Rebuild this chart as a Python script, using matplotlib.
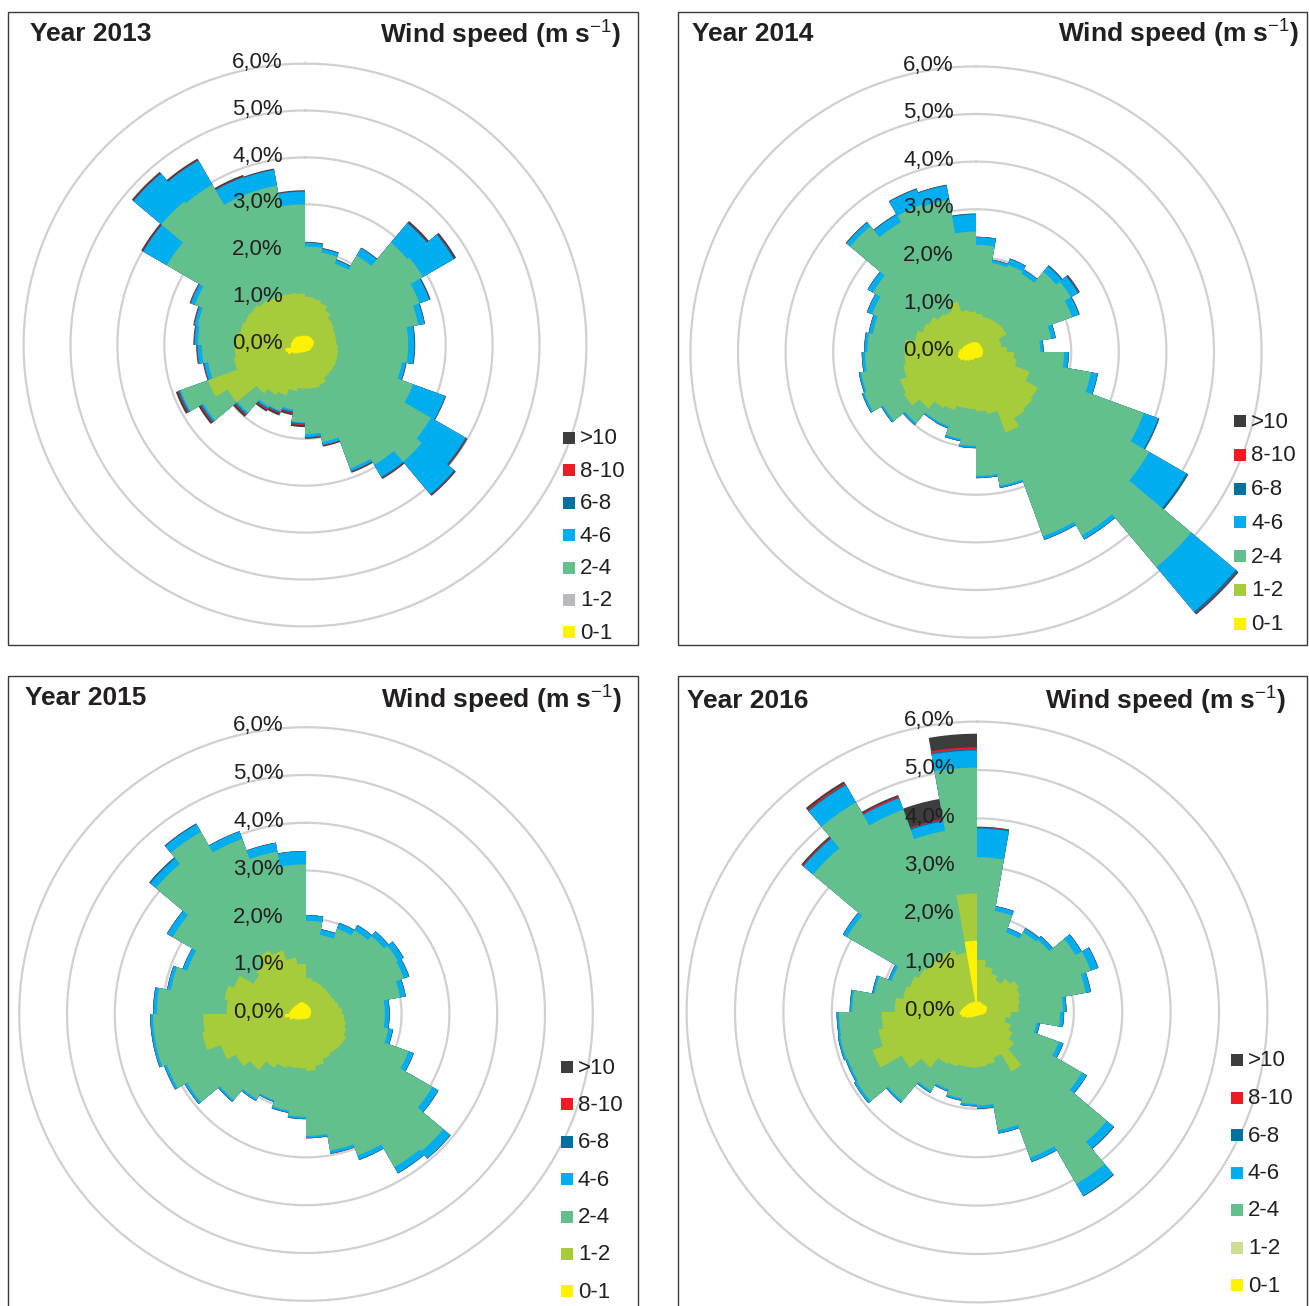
import numpy as np
import matplotlib.pyplot as plt
from matplotlib.patches import Rectangle

plt.rcParams['font.family'] = ['Liberation Sans', 'DejaVu Sans']
plt.rcParams['mathtext.fontset'] = 'custom'
plt.rcParams['mathtext.rm'] = 'Liberation Sans'
plt.rcParams['mathtext.bf'] = 'Liberation Sans:bold'

# 36 direction sectors of 10 degrees, given by the bearing where each one starts
sector_start = np.arange(0, 360, 10)

speed_classes = ['0-1', '1-2', '2-4', '4-6', '6-8', '8-10', '>10']
class_colors = ['#fff200', '#a6cb3b', '#63c08d', '#00aeef', '#00719f', '#ed1c24', '#3d3d3d']

# le*: cumulative frequency (%) of winds up to 1, 2, 4 and 6 m/s per sector
# s*: share (%) of the strong wind classes stacked on top of le6
le1_2013 = [0.2, 0.2, 0.2, 0.2, 0.2, 0.2, 0.2, 0.2, 0.18, 0.18, 0.16, 0.15, 0.15, 0.15, 0.15, 0.14, 0.14, 0.15,
            0.15, 0.16, 0.18, 0.2, 0.25, 0.3, 0.4, 0.43, 0.3, 0.3, 0.28, 0.28, 0.26, 0.25, 0.22, 0.22, 0.2, 0.2]
le2_2013 = [1.03, 1.0, 0.95, 0.85, 0.75, 0.72, 0.68, 0.67, 0.67, 0.7, 0.72, 0.74, 0.76, 0.78, 0.8, 0.9, 0.94, 0.93,
            0.93, 1.0, 1.15, 1.23, 1.35, 1.9, 2.2, 1.54, 1.5, 1.48, 1.4, 1.36, 1.33, 1.26, 1.2, 1.15, 1.13, 1.1]
le4_2013 = [2.1, 2.0, 1.85, 2.2, 2.85, 2.9, 2.6, 2.45, 2.2, 2.2, 2.1, 2.45, 3.1, 3.25, 2.95, 2.8, 2.1, 1.9,
            1.65, 1.4, 1.5, 1.52, 1.88, 2.5, 2.82, 2.1, 2.2, 2.28, 2.32, 2.5, 3.4, 4.0, 3.95, 3.45, 3.45, 3.0]
le6_2013 = [2.18, 2.08, 1.93, 2.38, 3.39, 3.66, 2.82, 2.58, 2.33, 2.33, 2.18, 3.18, 3.95, 4.15, 3.25, 2.86, 2.16, 1.96,
            1.67, 1.44, 1.52, 1.56, 1.92, 2.54, 2.85, 2.18, 2.29, 2.35, 2.39, 2.59, 3.98, 4.77, 4.54, 3.81, 3.79, 3.27]
s68_2013 = [0.01, 0.01, 0.01, 0.01, 0.02, 0.02, 0.01, 0.01, 0.01, 0.01, 0.01, 0.01, 0.02, 0.02, 0.02, 0.01, 0.01, 0.01,
            0.02, 0.02, 0.02, 0.02, 0.02, 0.02, 0.02, 0.01, 0.01, 0.01, 0.01, 0.01, 0.01, 0.01, 0.01, 0.01, 0.01, 0.01]
s810_2013 = [0, 0, 0, 0, 0.01, 0.01, 0, 0, 0, 0, 0, 0, 0.01, 0.01, 0.01, 0.01, 0.01, 0.01,
             0.02, 0.02, 0.02, 0.02, 0.02, 0.02, 0.02, 0.01, 0.01, 0.01, 0.01, 0.01, 0.01, 0.01, 0.01, 0.01, 0, 0]
sgt10_2013 = [0.01, 0.01, 0.01, 0.01, 0.03, 0.03, 0.02, 0.01, 0.01, 0.01, 0.01, 0.01, 0.02, 0.02, 0.02, 0.02, 0.02, 0.02,
              0.04, 0.04, 0.04, 0.04, 0.04, 0.04, 0.04, 0.01, 0.01, 0.01, 0.01, 0.01, 0.03, 0.03, 0.03, 0.03, 0.02, 0.02]

le1_2014 = [0.2, 0.2, 0.18, 0.17, 0.16, 0.15, 0.15, 0.15, 0.15, 0.15, 0.15, 0.15, 0.15, 0.15, 0.14, 0.13, 0.13, 0.13,
            0.13, 0.15, 0.18, 0.2, 0.25, 0.3, 0.36, 0.39, 0.37, 0.35, 0.3, 0.28, 0.25, 0.24, 0.22, 0.22, 0.21, 0.21]
le2_2014 = [0.8, 0.75, 0.75, 0.75, 0.75, 0.74, 0.55, 0.55, 0.65, 0.8, 0.87, 1.2, 1.5, 1.55, 1.6, 1.8, 1.32, 1.25,
            1.2, 1.2, 1.3, 1.36, 1.55, 1.75, 1.7, 1.55, 1.5, 1.5, 1.3, 1.2, 1.15, 1.05, 1.0, 1.13, 0.9, 0.85]
le4_2014 = [2.25, 1.9, 1.95, 1.9, 2.2, 2.3, 2.15, 1.6, 1.35, 1.85, 2.45, 3.75, 4.2, 5.9, 4.45, 4.12, 2.85, 2.6,
            1.97, 1.85, 1.66, 1.66, 1.95, 2.25, 2.5, 2.45, 2.33, 2.28, 2.2, 2.32, 2.5, 3.45, 3.15, 3.3, 3.25, 2.53]
le6_2014 = [2.41, 1.96, 2.08, 1.99, 2.35, 2.47, 2.3, 1.69, 1.41, 1.94, 2.59, 4.07, 5.1, 7.12, 4.54, 4.19, 2.89, 2.64,
            2.01, 1.89, 1.7, 1.69, 1.99, 2.29, 2.54, 2.49, 2.39, 2.34, 2.28, 2.43, 2.62, 3.55, 3.33, 3.64, 3.55, 2.89]
s68_2014 = [0.01, 0.01, 0.01, 0.01, 0.02, 0.03, 0.01, 0.01, 0.01, 0.01, 0.01, 0.02, 0.04, 0.05, 0.01, 0.01, 0.01, 0.01,
            0.01, 0.01, 0.01, 0.01, 0.01, 0.01, 0.01, 0.01, 0.01, 0.01, 0.01, 0.01, 0.01, 0.01, 0.01, 0.01, 0.01, 0.01]
s810_2014 = [0, 0, 0, 0, 0, 0.01, 0, 0, 0, 0, 0, 0, 0, 0.01, 0, 0, 0, 0,
             0, 0, 0, 0, 0, 0, 0, 0, 0, 0, 0, 0, 0, 0, 0, 0, 0, 0]
sgt10_2014 = [0, 0, 0, 0, 0.01, 0.01, 0.01, 0, 0, 0, 0, 0.01, 0.01, 0.02, 0, 0, 0, 0,
              0, 0, 0, 0, 0, 0, 0, 0, 0, 0, 0, 0, 0, 0.01, 0.01, 0.01, 0.01, 0.01]

le1_2015 = [0.2, 0.18, 0.16, 0.15, 0.14, 0.13, 0.12, 0.11, 0.1, 0.1, 0.1, 0.1, 0.1, 0.1, 0.1, 0.1, 0.1, 0.1,
            0.1, 0.11, 0.12, 0.13, 0.16, 0.2, 0.25, 0.35, 0.44, 0.35, 0.32, 0.3, 0.28, 0.27, 0.27, 0.27, 0.25, 0.22]
le2_2015 = [0.75, 0.7, 0.68, 0.66, 0.64, 0.64, 0.66, 0.7, 0.75, 0.8, 0.85, 0.9, 0.97, 0.97, 0.96, 1.0, 1.1, 1.19,
            1.14, 1.15, 1.2, 1.3, 1.53, 1.7, 1.9, 2.2, 2.15, 1.66, 1.73, 1.6, 1.27, 1.35, 1.54, 1.42, 1.2, 1.05]
le4_2015 = [1.95, 1.68, 1.9, 2.02, 2.13, 2.22, 2.18, 2.0, 1.65, 1.65, 1.75, 2.28, 3.05, 3.75, 3.7, 3.15, 2.9, 2.55,
            2.15, 2.05, 1.92, 2.05, 2.35, 2.87, 3.1, 3.2, 3.2, 3.12, 2.87, 2.65, 3.22, 4.1, 4.4, 3.9, 3.45, 3.13]
le6_2015 = [2.06, 1.79, 2.02, 2.14, 2.25, 2.35, 2.29, 2.11, 1.74, 1.74, 1.84, 2.39, 3.19, 3.94, 3.84, 3.24, 2.96, 2.59,
            2.19, 2.09, 1.95, 2.09, 2.39, 2.92, 3.15, 3.25, 3.25, 3.19, 2.94, 2.74, 3.35, 4.25, 4.58, 4.06, 3.63, 3.4]
s68_2015 = [0.01, 0.01, 0.01, 0.01, 0.01, 0.01, 0.01, 0.01, 0.01, 0.01, 0.01, 0.01, 0.01, 0.01, 0.01, 0.01, 0.01, 0.01,
            0.01, 0.01, 0.01, 0.01, 0.01, 0.01, 0.01, 0.01, 0.01, 0.01, 0.01, 0.01, 0.01, 0.03, 0.02, 0.01, 0.01, 0.01]
s810_2015 = [0] * 36
sgt10_2015 = [0] * 36

le1_2016 = [0.22, 0.22, 0.21, 0.2, 0.21, 0.22, 0.23, 0.21, 0.19, 0.18, 0.15, 0.12, 0.1, 0.09, 0.08, 0.08, 0.08, 0.08,
            0.08, 0.09, 0.1, 0.12, 0.15, 0.2, 0.26, 0.32, 0.36, 0.33, 0.3, 0.27, 0.25, 0.24, 0.23, 0.22, 0.22, 1.47]
le2_2016 = [1.08, 0.95, 0.85, 0.76, 0.9, 1.0, 0.95, 0.9, 0.86, 0.7, 0.6, 0.75, 0.85, 1.0, 1.42, 1.0, 1.1, 1.13,
            1.15, 1.15, 1.2, 1.24, 1.5, 1.8, 2.3, 2.07, 1.97, 1.7, 1.55, 1.48, 1.4, 1.35, 1.35, 1.36, 1.25, 2.45]
le4_2016 = [3.2, 2.12, 1.75, 1.9, 1.95, 2.35, 2.5, 2.28, 1.78, 1.72, 1.25, 1.8, 2.5, 3.5, 4.1, 3.2, 2.48, 1.93,
            1.9, 1.81, 1.7, 1.88, 2.4, 2.87, 2.84, 2.87, 2.85, 2.58, 2.15, 1.88, 3.1, 4.42, 5.0, 4.45, 3.8, 5.05]
le6_2016 = [3.79, 2.21, 1.84, 1.99, 2.04, 2.49, 2.66, 2.38, 1.84, 1.79, 1.31, 1.89, 2.61, 3.68, 4.38, 3.29, 2.54, 1.99,
            1.94, 1.85, 1.74, 1.92, 2.44, 2.92, 2.88, 2.91, 2.89, 2.62, 2.19, 1.94, 3.19, 4.68, 5.41, 4.7, 4.0, 5.4]
s68_2016 = [0.02, 0.01, 0.01, 0.01, 0.01, 0.01, 0.01, 0.01, 0.01, 0.01, 0.01, 0.01, 0.01, 0.01, 0.01, 0.01, 0.01, 0.01,
            0.01, 0.01, 0.01, 0.01, 0.01, 0.01, 0.01, 0.01, 0.01, 0.01, 0.01, 0.01, 0.01, 0.01, 0.02, 0.01, 0.03, 0.03]
s810_2016 = [0.01, 0, 0, 0, 0, 0, 0, 0, 0, 0, 0, 0, 0, 0, 0, 0, 0, 0,
             0, 0, 0, 0, 0, 0, 0, 0, 0, 0, 0, 0, 0, 0.02, 0.03, 0.03, 0.02, 0.04]
sgt10_2016 = [0.01, 0, 0, 0, 0, 0, 0, 0, 0, 0, 0, 0, 0, 0.01, 0.01, 0, 0, 0,
              0, 0, 0, 0, 0, 0, 0, 0, 0, 0, 0, 0, 0, 0.03, 0.04, 0.03, 0.42, 0.28]

ring_values = [0, 1, 2, 3, 4, 5, 6]

W, H = 1309, 1306
RMAX = 8.0
text_color = '#231f20'

# year, frame (x0, y0, x1, y1), centre, px per %, title anchors, legend anchors, legend colour of 1-2
panels = [
    dict(year=2013, data=(le1_2013, le2_2013, le4_2013, le6_2013, s68_2013, s810_2013, sgt10_2013),
         frame=(8, 12, 638, 645), center=(305, 345), k=46.9, left=(30, 34), right=(621, 34),
         leg=(569, 438, 32.4), leg12='#b8babd'),
    dict(year=2014, data=(le1_2014, le2_2014, le4_2014, le6_2014, s68_2014, s810_2014, sgt10_2014),
         frame=(678, 12, 1307, 645), center=(976, 352), k=47.6, left=(692, 34), right=(1299, 33),
         leg=(1240, 421, 33.8), leg12=None),
    dict(year=2015, data=(le1_2015, le2_2015, le4_2015, le6_2015, s68_2015, s810_2015, sgt10_2015),
         frame=(8, 676, 638, 1312), center=(306, 1014), k=47.8, left=(25, 698), right=(622, 699),
         leg=(567, 1067, 37.4), leg12=None),
    dict(year=2016, data=(le1_2016, le2_2016, le4_2016, le6_2016, s68_2016, s810_2016, sgt10_2016),
         frame=(678, 676, 1307, 1312), center=(977, 1012), k=48.4, left=(687, 701), right=(1286, 700),
         leg=(1237, 1060, 37.5), leg12='#cadf93'),
]


def stepped(values):
    # each sector keeps its value over its 10 degrees, sampled every degree
    theta, r = [], []
    for start, v in zip(sector_start, values):
        t = np.arange(start, start + 10.5, 1.0)
        theta.extend(t)
        r.extend([v] * len(t))
    return np.radians(theta), np.array(r)


fig = plt.figure(figsize=(W / 100, H / 100), dpi=100)

# wind roses first, frames / titles / legends on an overlay on top of them
for p in panels:
    cx, cy = p['center']
    half = RMAX * p['k']
    ax = fig.add_axes([(cx - half) / W, 1 - (cy + half) / H, 2 * half / W, 2 * half / H],
                      projection='polar')
    ax.set_theta_zero_location('N')
    ax.set_theta_direction(-1)
    ax.set_ylim(0, RMAX)
    ax.set_axis_off()

    th = np.radians(np.arange(0, 361, 1))
    for rv in ring_values[1:]:
        ax.plot(th, np.full_like(th, rv), color='#d0d0d0', lw=1.6, zorder=1)

    le1, le2, le4, le6, s68, s810, s10 = [np.asarray(a, dtype=float) for a in p['data']]
    le8 = le6 + s68
    le10 = le8 + s810
    total = le10 + s10
    layers = [le1, le2, le4, le6, le8, le10, total]
    for vals, color in reversed(list(zip(layers, class_colors))):
        t, r = stepped(vals)
        ax.fill(t, r, color=color, lw=0, zorder=2)

    for rv in ring_values:
        ax.annotate(f'{rv:.1f}%'.replace('.', ','), xy=(0, rv), xytext=(-16, 1),
                    textcoords='offset points', ha='right', va='center', fontsize=16,
                    color=text_color, zorder=5, annotation_clip=False)

top = fig.add_axes([0, 0, 1, 1])
top.set_xlim(0, W)
top.set_ylim(H, 0)
top.axis('off')

for p in panels:
    x0, y0, x1, y1 = p['frame']
    top.add_patch(Rectangle((x0, y0), x1 - x0, y1 - y0, fill=False, ec='#3a3a3a', lw=1.0))
    top.text(p['left'][0], p['left'][1], f"Year {p['year']}", fontsize=19, fontweight='bold',
             ha='left', va='center', color=text_color)
    top.text(p['right'][0], p['right'][1], r'Wind speed (m s$^{-1}$)', fontsize=19, fontweight='bold',
             ha='right', va='center', color=text_color)

    # legend, strongest class on top
    lx, ly, dy = p['leg']
    for j, (name, color) in enumerate(zip(speed_classes[::-1], class_colors[::-1])):
        if name == '1-2' and p['leg12']:
            color = p['leg12']
        yy = ly + j * dy
        top.add_patch(Rectangle((lx - 6, yy - 6), 12, 12, color=color, lw=0))
        top.text(lx + 11, yy + 1, name, fontsize=16, ha='left', va='center', color=text_color)

fig.savefig('out.png', dpi=100)
